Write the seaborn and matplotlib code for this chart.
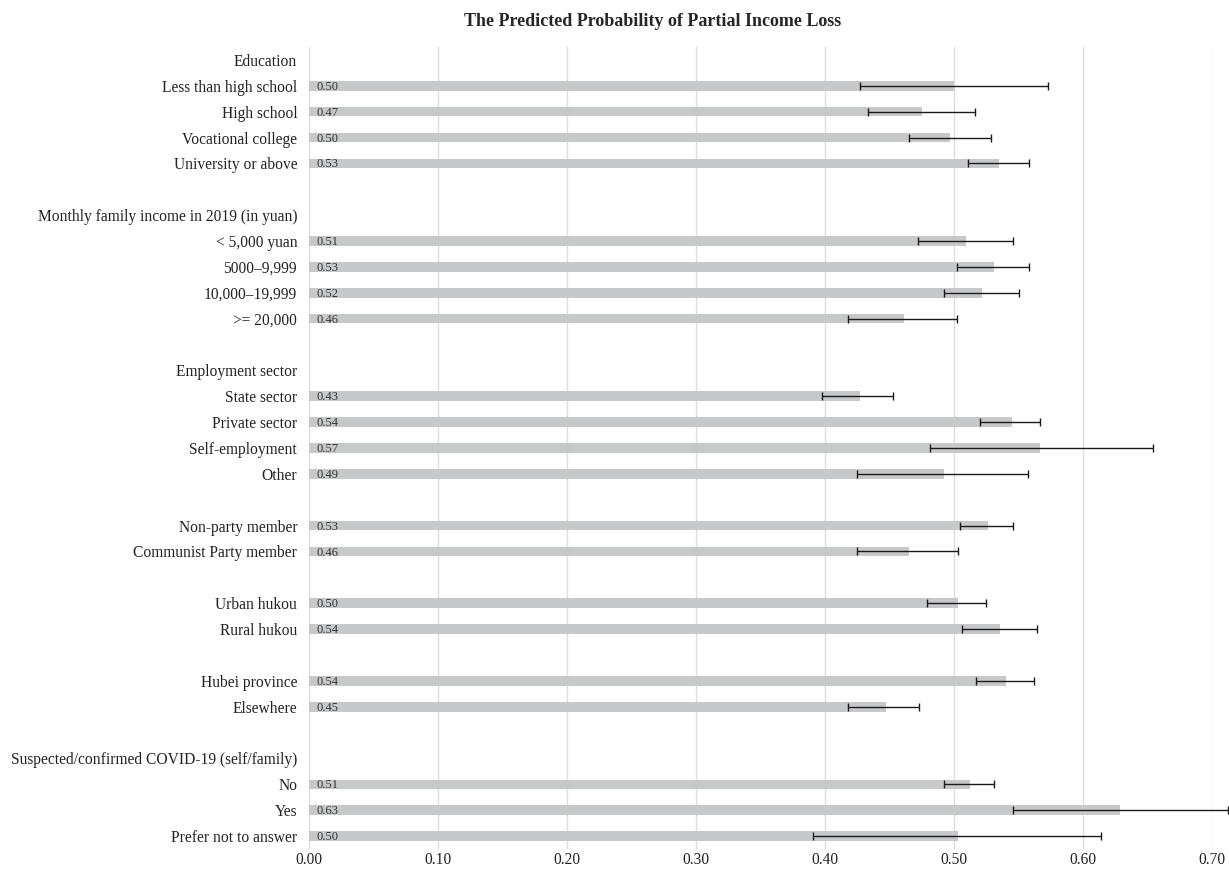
"""
predicted probability of partial income loss, horizontal bars with CIs
"""

import matplotlib
matplotlib.use("Agg")
import matplotlib.pyplot as plt
import pandas as pd
import seaborn as sns

# rows from top to bottom; headers and blank spacer rows have no bar
rows = [
    "Education",
    "Less than high school",
    "High school",
    "Vocational college",
    "University or above",
    " ",
    "Monthly family income in 2019 (in yuan)",
    "< 5,000 yuan",
    "5000\u20139,999",
    "10,000\u201319,999",
    ">= 20,000",
    "  ",
    "Employment sector",
    "State sector",
    "Private sector",
    "Self-employment",
    "Other",
    "   ",
    "Non-party member",
    "Communist Party member",
    "    ",
    "Urban hukou",
    "Rural hukou",
    "     ",
    "Hubei province",
    "Elsewhere",
    "      ",
    "Suspected/confirmed COVID-19 (self/family)",
    "No",
    "Yes",
    "Prefer not to answer",
]

# categories that carry a bar
groups = [
    "Less than high school", "High school", "Vocational college", "University or above",
    "< 5,000 yuan", "5000\u20139,999", "10,000\u201319,999", ">= 20,000",
    "State sector", "Private sector", "Self-employment", "Other",
    "Non-party member", "Communist Party member",
    "Urban hukou", "Rural hukou",
    "Hubei province", "Elsewhere",
    "No", "Yes", "Prefer not to answer",
]
prob = [
    0.500, 0.475, 0.497, 0.535,
    0.509, 0.531, 0.522, 0.461,
    0.427, 0.545, 0.567, 0.492,
    0.526, 0.465,
    0.503, 0.536,
    0.540, 0.447,
    0.512, 0.629, 0.503,
]
ci_low = [
    0.427, 0.433, 0.465, 0.511,
    0.472, 0.502, 0.492, 0.418,
    0.398, 0.520, 0.481, 0.425,
    0.505, 0.425,
    0.479, 0.506,
    0.517, 0.418,
    0.492, 0.546, 0.391,
]
ci_high = [
    0.573, 0.516, 0.529, 0.558,
    0.546, 0.558, 0.550, 0.502,
    0.453, 0.567, 0.654, 0.557,
    0.546, 0.503,
    0.525, 0.564,
    0.562, 0.473,
    0.531, 0.712, 0.614,
]
bar_text = ["0.50", "0.47", "0.50", "0.53", "0.51", "0.53", "0.52", "0.46",
            "0.43", "0.54", "0.57", "0.49", "0.53", "0.46", "0.50", "0.54",
            "0.54", "0.45", "0.51", "0.63", "0.50"]

df = pd.DataFrame({"group": groups, "prob": prob, "lo": ci_low, "hi": ci_high})

sns.set_style("white")
plt.rcParams["font.family"] = ["Liberation Serif", "DejaVu Serif"]

fig, ax = plt.subplots(figsize=(12.29, 8.75), dpi=100)
fig.subplots_adjust(left=0.2514, right=0.9862, top=0.9463, bottom=0.0297)

sns.barplot(data=df, x="prob", y="group", order=rows, color="#c7c8ca",
            width=0.37, errorbar=None, saturation=1, linewidth=0, ax=ax)

# error bars on the same categorical positions
ypos = [rows.index(g) for g in df["group"]]
ax.errorbar(df["prob"], ypos,
            xerr=[df["prob"] - df["lo"], df["hi"] - df["prob"]],
            fmt="none", ecolor="#1a1a1a", elinewidth=1.0, capsize=2.7,
            capthick=1.0, clip_on=False, zorder=4)

for y, t in zip(ypos, bar_text):
    ax.text(0.006, y + 0.04, t, va="center", ha="left", fontsize=9,
            color="#333333", zorder=5)

ax.set_xlim(0, 0.70)
ax.set_ylim(len(rows) - 0.5, -0.5)
ax.set_xticks([0, 0.1, 0.2, 0.3, 0.4, 0.5, 0.6, 0.7])
ax.set_xticklabels([f"{v:.2f}" for v in ax.get_xticks()])
ax.xaxis.grid(True, color="#dcdcdc", linewidth=1)
ax.set_axisbelow(True)
for s in ax.spines.values():
    s.set_visible(False)
ax.tick_params(axis="y", length=0, pad=8.5, labelsize=11.2, labelcolor="#222222")
ax.tick_params(axis="x", length=0, pad=2, labelsize=11.2, labelcolor="#222222")
ax.set_xlabel("")
ax.set_ylabel("")

fig.suptitle("The Predicted Probability of Partial Income Loss", y=0.975,
             va="center", fontsize=13, fontweight="bold", x=0.531)

fig.savefig("out.png", dpi=100)
